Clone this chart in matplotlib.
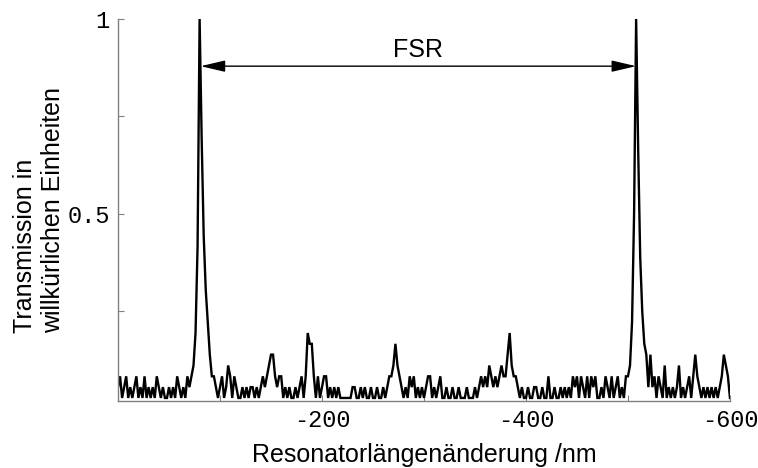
import numpy as np
import matplotlib.pyplot as plt
from matplotlib.patches import FancyArrowPatch

# Resonatorlaenge, alle 2 nm abgetastet (0 ... -600 nm)
x_nm = np.arange(0, -601, -2)

# Detektorsignal in ADC-Stufen (1 Stufe = 1/36)
counts = [
    2, 3, 1, 2, 3, 1, 2, 1, 2, 3,      # 0 .. -18
    1, 2, 1, 3, 1, 2, 1, 2, 1, 3,      # -20 .. -38
    2, 1, 2, 1, 1, 2, 1, 2, 1, 3,      # -40 .. -58
    2, 1, 2, 1, 3, 2, 3, 4, 7, 15,     # -60 .. -78
    36, 25, 16, 11, 8, 5, 3, 3, 2, 1,  # -80 .. -98
    2, 3, 1, 2, 4, 3, 1, 3, 2, 1,      # -100 .. -118
    1, 2, 1, 2, 1, 2, 2, 1, 2, 1,      # -120 .. -138
    2, 3, 2, 3, 4, 5, 5, 3, 2, 3,      # -140 .. -158
    3, 1, 2, 1, 2, 1, 1, 2, 1, 2,      # -160 .. -178
    3, 1, 3, 7, 6, 6, 3, 1, 3, 1,      # -180 .. -198
    2, 3, 3, 1, 2, 1, 2, 1, 2, 1,      # -200 .. -218
    1, 1, 1, 1, 1, 2, 2, 1, 1, 2,      # -220 .. -238
    1, 2, 1, 1, 2, 1, 1, 2, 1, 1,      # -240 .. -258
    2, 1, 2, 3, 3, 4, 6, 4, 3, 2,      # -260 .. -278
    1, 2, 1, 3, 2, 3, 1, 2, 1, 2,      # -280 .. -298
    1, 2, 3, 3, 1, 2, 1, 2, 3, 1,      # -300 .. -318
    1, 2, 1, 1, 2, 1, 1, 2, 1, 1,      # -320 .. -338
    1, 2, 1, 1, 1, 2, 1, 2, 3, 2,      # -340 .. -358
    3, 2, 4, 3, 2, 3, 2, 3, 4, 3,      # -360 .. -378
    3, 5, 7, 4, 3, 3, 2, 1, 2, 1,      # -380 .. -398
    1, 2, 1, 1, 2, 2, 1, 1, 2, 1,      # -400 .. -418
    1, 3, 1, 1, 2, 1, 1, 2, 1, 2,      # -420 .. -438
    1, 2, 1, 3, 2, 3, 1, 3, 2, 1,      # -440 .. -458
    3, 1, 3, 2, 3, 1, 1, 2, 1, 3,      # -460 .. -478
    2, 1, 3, 1, 2, 3, 1, 2, 1, 3,      # -480 .. -498
    3, 4, 8, 18, 36, 24, 14, 9, 6, 5,  # -500 .. -518
    2, 5, 2, 3, 1, 3, 2, 1, 4, 1,      # -520 .. -538
    2, 1, 2, 1, 2, 4, 1, 2, 1, 2,      # -540 .. -558
    3, 1, 3, 5, 3, 2, 1, 2, 1, 2,      # -560 .. -578
    1, 2, 1, 2, 1, 2, 3, 5, 4, 3,      # -580 .. -598
    1,                                 # -600
]
full_scale = 36

xtick_major = [-200, -400, -600]
xtick_minor = [-100, -300, -500]
ytick_major = [0.5, 1]
ytick_minor = [0.25, 0.75]

fsr_left = -81     # Peak 1
fsr_right = -508   # Peak 2
fsr_level = 0.879

y = np.array(counts) / full_scale

mono = 'Liberation Mono'
sans = 'Liberation Sans'
grey = '#808080'

fig = plt.figure(figsize=(7.58, 4.68), dpi=100)
ax = fig.add_axes([0.1557, 0.1432, 0.8073, 0.8162])

ax.plot(x_nm, y, color='black', lw=1.7, solid_joinstyle='miter')

ax.set_xlim(0, -600)
ax.set_ylim(0.02, 1.0)

for s in ['top', 'right']:
    ax.spines[s].set_visible(False)
for s in ['left', 'bottom']:
    ax.spines[s].set_color(grey)
    ax.spines[s].set_linewidth(1.0)

ax.set_xticks(xtick_major)
ax.set_xticklabels([str(v) for v in xtick_major], family=mono, fontsize=17)
ax.set_xticks(xtick_minor, minor=True)
ax.set_yticks(ytick_major)
ax.set_yticklabels(['0.5', '1'], family=mono, fontsize=17)
ax.set_yticks(ytick_minor, minor=True)
ax.tick_params(which='both', direction='in', length=4, width=0.8, color=grey)
ax.tick_params(axis='x', pad=6)
ax.tick_params(axis='y', pad=6)

ax.set_xlabel('Resonatorlängenänderung /nm', family=sans, fontsize=18, labelpad=8)
ax.set_ylabel('Transmission in\nwillkürlichen Einheiten', family=sans, fontsize=18,
              multialignment='left', labelpad=2, linespacing=1.2)

arr = FancyArrowPatch((fsr_left, fsr_level), (fsr_right, fsr_level),
                      arrowstyle='<|-|>,head_length=1.5,head_width=0.35',
                      mutation_scale=10, color='black', lw=1.0,
                      shrinkA=0, shrinkB=0)
ax.add_patch(arr)
ax.text((fsr_left + fsr_right) / 2, 0.92, 'FSR', family=sans, fontsize=18,
        ha='center', va='center')

plt.savefig('out.png')
